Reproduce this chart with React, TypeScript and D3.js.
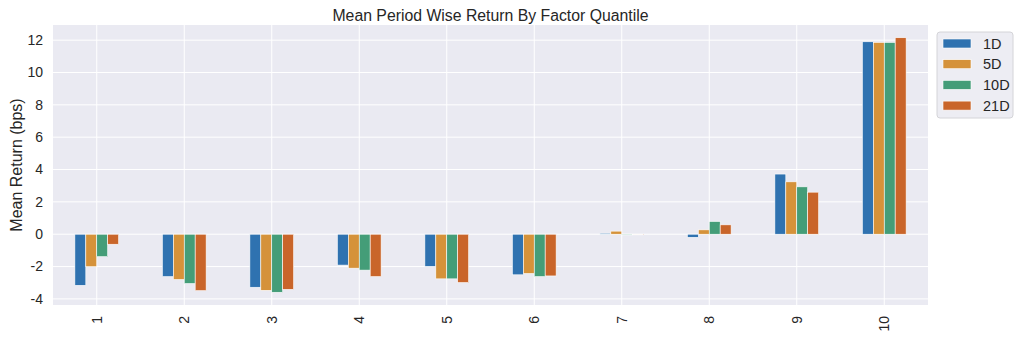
import React, { useEffect, useRef } from 'react';
import * as d3 from 'd3';

// factor quantiles on the x axis
const quantiles = ['1', '2', '3', '4', '5', '6', '7', '8', '9', '10'];
const periods = ['1D', '5D', '10D', '21D'];
const periodColors = ['#2f72b0', '#d5923a', '#449d78', '#c9652a'];

// mean returns (bps) per period, one value per quantile
const ret1D = [-3.16, -2.62, -3.28, -1.91, -1.99, -2.51, 0.06, -0.19, 3.72, 11.9];
const ret5D = [-2.01, -2.8, -3.47, -2.1, -2.76, -2.43, 0.19, 0.27, 3.24, 11.86];
const ret10D = [-1.39, -3.05, -3.59, -2.22, -2.76, -2.62, -0.05, 0.79, 2.93, 11.86];
const ret21D = [-0.62, -3.49, -3.41, -2.62, -2.99, -2.58, -0.04, 0.58, 2.6, 12.15];

const yTicks = [-4, -2, 0, 2, 4, 6, 8, 10, 12];

const App = () => {
    const svgRef = useRef<SVGSVGElement>(null);

    useEffect(() => {
        const series = [ret1D, ret5D, ret10D, ret21D];
        const margin = { top: 25, right: 96, bottom: 46, left: 53 };
        const W = 1024;
        const H = 351;
        const font = '"Liberation Sans", Arial, sans-serif';
        const textColor = '#262626';

        const allVals = series.flat();
        const lo = Math.min(0, d3.min(allVals) as number);
        const hi = d3.max(allVals) as number;
        const pad = (hi - lo) * 0.05;

        const x = d3.scaleBand()
            .domain(quantiles)
            .range([margin.left, W - margin.right])
            .padding(0);

        const xInner = d3.scaleBand()
            .domain(periods)
            .range([x.bandwidth() * 0.25, x.bandwidth() * 0.75])
            .padding(0);

        const y = d3.scaleLinear()
            .domain([lo - pad, hi + pad])
            .range([H - margin.bottom, margin.top]);

        const svg = d3.select(svgRef.current);
        svg.selectAll('*').remove();
        svg.attr('width', W).attr('height', H);

        svg.append('rect')
            .attr('width', W).attr('height', H).attr('fill', '#ffffff');

        // plot background
        svg.append('rect')
            .attr('x', margin.left)
            .attr('y', margin.top)
            .attr('width', W - margin.right - margin.left)
            .attr('height', H - margin.bottom - margin.top)
            .attr('fill', '#eaeaf2');

        // grid
        svg.append('g')
            .selectAll('line')
            .data(yTicks)
            .join('line')
            .attr('x1', margin.left)
            .attr('x2', W - margin.right)
            .attr('y1', (d) => y(d))
            .attr('y2', (d) => y(d))
            .attr('stroke', '#ffffff')
            .attr('stroke-width', 1);

        svg.append('g')
            .selectAll('line')
            .data(quantiles)
            .join('line')
            .attr('x1', (d) => x(d)! + x.bandwidth() / 2)
            .attr('x2', (d) => x(d)! + x.bandwidth() / 2)
            .attr('y1', margin.top)
            .attr('y2', H - margin.bottom)
            .attr('stroke', '#ffffff')
            .attr('stroke-width', 1);

        // bars
        series.forEach((vals, si) => {
            svg.append('g')
                .selectAll('rect')
                .data(vals)
                .join('rect')
                .attr('x', (_, i) => x(quantiles[i])! + xInner(periods[si])!)
                .attr('width', xInner.bandwidth())
                .attr('y', (d) => y(Math.max(0, d)))
                .attr('height', (d) => Math.abs(y(d) - y(0)))
                .attr('fill', periodColors[si])
                .attr('stroke', '#ffffff')
                .attr('stroke-width', 0.6);
        });

        // y tick labels
        svg.append('g')
            .selectAll('text')
            .data(yTicks)
            .join('text')
            .attr('x', margin.left - 10)
            .attr('y', (d) => y(d))
            .attr('dy', '0.35em')
            .attr('text-anchor', 'end')
            .attr('font-family', font)
            .attr('font-size', 14)
            .attr('fill', textColor)
            .text((d) => d);

        // x tick labels, rotated
        svg.append('g')
            .selectAll('text')
            .data(quantiles)
            .join('text')
            .attr('transform', (d) => `translate(${x(d)! + x.bandwidth() / 2},${H - margin.bottom + 11}) rotate(-90)`)
            .attr('dy', '0.35em')
            .attr('text-anchor', 'end')
            .attr('font-family', font)
            .attr('font-size', 14)
            .attr('fill', textColor)
            .text((d) => d);

        // y axis label
        svg.append('text')
            .attr('transform', `translate(16,${(margin.top + H - margin.bottom) / 2}) rotate(-90)`)
            .attr('dy', '0.35em')
            .attr('text-anchor', 'middle')
            .attr('font-family', font)
            .attr('font-size', 16)
            .attr('fill', textColor)
            .text('Mean Return (bps)');

        // title
        svg.append('text')
            .attr('x', (margin.left + W - margin.right) / 2)
            .attr('y', 20.5)
            .attr('text-anchor', 'middle')
            .attr('font-family', font)
            .attr('font-size', 15.8)
            .attr('fill', textColor)
            .text('Mean Period Wise Return By Factor Quantile');

        // legend
        const legend = svg.append('g').attr('transform', 'translate(937,32)');
        legend.append('rect')
            .attr('width', 76)
            .attr('height', 86)
            .attr('rx', 3)
            .attr('fill', '#ededf3')
            .attr('stroke', '#d4d4d8')
            .attr('stroke-width', 1);

        const rows = legend.selectAll('g')
            .data(periods)
            .join('g')
            .attr('transform', (_, i) => `translate(0,${11.5 + i * 20.7})`);

        rows.append('rect')
            .attr('x', 6)
            .attr('y', -4.5)
            .attr('width', 28)
            .attr('height', 9)
            .attr('fill', (_, i) => periodColors[i])
            .attr('stroke', '#ffffff')
            .attr('stroke-width', 0.6);

        rows.append('text')
            .attr('x', 46)
            .attr('dy', '0.35em')
            .attr('font-family', font)
            .attr('font-size', 14.5)
            .attr('fill', textColor)
            .text((d) => d);
    }, []);

    return (
        <svg ref={svgRef} style={{ position: 'absolute', left: 0, top: 0 }}></svg>
    );
};

export default App;
